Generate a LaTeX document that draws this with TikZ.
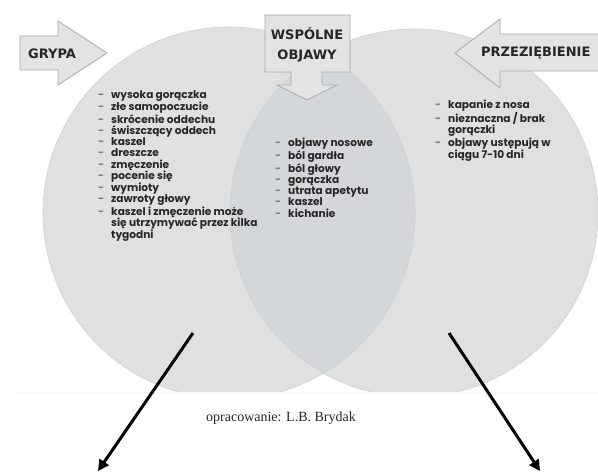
\documentclass[tikz,border=0pt]{standalone}
\usepackage{fontspec}
\setmainfont{Poppins}
\newfontfamily\labfont{DejaVu Sans}
\newfontfamily\capfont{Liberation Serif}
\usetikzlibrary{arrows.meta}
\definecolor{circgray}{HTML}{E0E0E0}
\definecolor{lensgray}{HTML}{D4D7DA}
\definecolor{edgegray}{HTML}{CDCFD1}
\definecolor{boxgray}{HTML}{E3E3E3}
\definecolor{boxline}{HTML}{A9A9A9}
\definecolor{txtgray}{HTML}{262626}
\newcommand{\itm}[1]{\makebox[13pt][l]{\textcolor{gray}{-}}#1}
\newcommand{\cnt}[1]{\hspace*{13pt}#1}

\begin{document}
\begin{tikzpicture}[x=1pt,y=-1pt,
  blockarrow/.style={fill=boxgray,draw=boxline,line width=0.8pt},
  headtxt/.style={font=\labfont\bfseries\fontsize{13}{20}\selectfont,text=txtgray,inner sep=0pt,align=center},
  listtxt/.style={font=\bfseries\fontsize{10.6}{11.25}\selectfont,text=txtgray,align=left,anchor=north west,inner sep=0pt},
  pointer/.style={line width=3pt,-{Triangle[length=11pt,width=11pt]}}]
  \useasboundingbox (0,0) rectangle (598,476);
  % two circles, cut off at the bottom of the scan
  \begin{scope}
    \clip (0,0) rectangle (598,392);
    \fill[circgray] (229,213) circle[radius=186];
    \fill[circgray] (414,213) circle[radius=184];
    \begin{scope}
      \clip (229,213) circle[radius=186];
      \fill[lensgray] (414,213) circle[radius=184];
    \end{scope}
    \draw[edgegray,line width=0.6pt] (229,213) circle[radius=186] (414,213) circle[radius=184];
  \end{scope}
  \draw[red!4!white,line width=0.6pt] (15,392) -- (598,392);
  % GRYPA
  \draw[blockarrow] (20,36) -- (58,36) -- (58,21) -- (107,53) -- (58,85) -- (58,70) -- (20,70) -- cycle;
  \node[headtxt] (gr) at (52,54) {GRYPA};
  % WSPOLNE OBJAWY
  \draw[blockarrow] (265,15) -- (350,15) -- (350,72) -- (322,72) -- (322,85) -- (337,85)
    -- (307,100) -- (277,85) -- (291,85) -- (291,72) -- (265,72) -- cycle;
  \node[headtxt] (ws) at (307,45) {WSPÓLNE\\OBJAWY};
  % PRZEZIEBIENIE
  \draw[blockarrow] (602,34) -- (500,34) -- (500,19) -- (455,53) -- (500,88) -- (500,71) -- (602,71);
  \node[headtxt,anchor=west] (pz) at (481,53) {PRZEZIĘBIENIE};
  % lists
  \node[listtxt] (lgr) at (98,90) {\itm{wysoka gorączka}\\ \itm{złe samopoczucie}\\
    \itm{skrócenie oddechu}\\ \itm{świszczący oddech}\\ \itm{kaszel}\\ \itm{dreszcze}\\
    \itm{zmęczenie}\\ \itm{pocenie się}\\ \itm{wymioty}\\ \itm{zawroty głowy}\\
    \itm{kaszel i zmęczenie może}\\ \cnt{się utrzymywać przez kilka}\\ \cnt{tygodni}};
  \node[listtxt] (lws) at (275,138) {\itm{objawy nosowe}\\ \itm{ból gardła}\\ \itm{ból głowy}\\
    \itm{gorączka}\\ \itm{utrata apetytu}\\ \itm{kaszel}\\ \itm{kichanie}};
  \node[listtxt] (lpz) at (435,100) {\itm{kapanie z nosa}\\ \itm{nieznaczna / brak}\\
    \cnt{gorączki}\\ \itm{objawy ustępują w}\\ \cnt{ciągu 7-10 dni}};
  % source
  \node[font=\capfont\fontsize{14}{16}\selectfont,text=black!85] (src) at (281,418) {opracowanie: L.B. Brydak};
  % arrows down
  \coordinate (gs) at (193,333);
  \coordinate (ge) at (98,471);
  \coordinate (ps) at (449,333);
  \coordinate (pe) at (540,471);
  \draw[pointer] (gs) -- (ge);
  \draw[pointer] (ps) -- (pe);
\end{tikzpicture}
\end{document}
